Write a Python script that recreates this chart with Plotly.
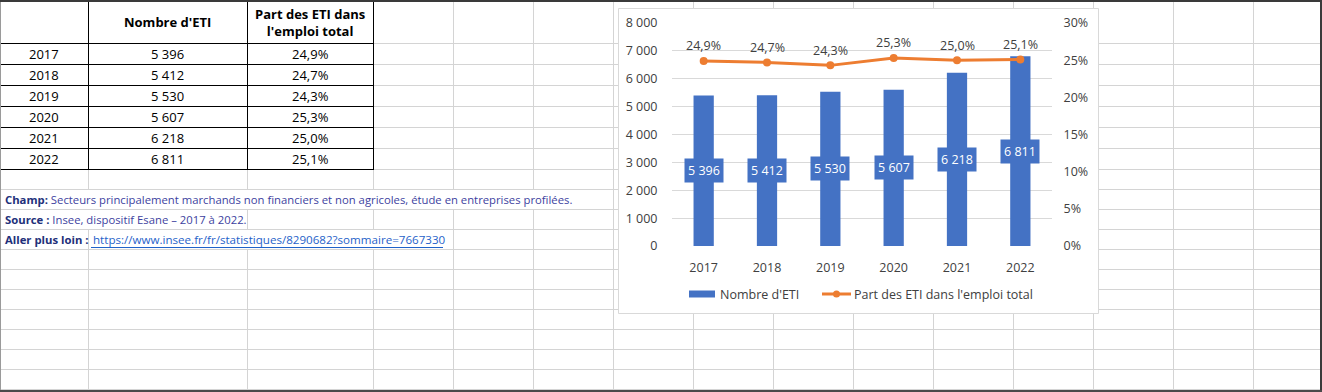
import plotly.graph_objects as go

W, H = 1322, 392

# ---------------- data ----------------
annees = ["2017", "2018", "2019", "2020", "2021", "2022"]
nombre_eti = [5396, 5412, 5530, 5607, 6218, 6811]
part_emploi = [24.9, 24.7, 24.3, 25.3, 25.0, 25.1]  # %
y_left_ticks = [0, 1000, 2000, 3000, 4000, 5000, 6000, 7000, 8000]
y_right_ticks = [0, 5, 10, 15, 20, 25, 30]
col_headers = ["Nombre d'ETI", "Part des ETI dans<br>l'emploi total"]
legend_labels = ["Nombre d'ETI", "Part des ETI dans l'emploi total"]
note_champ_label = "Champ:"
note_champ = "Secteurs principalement marchands non financiers et non agricoles, étude en entreprises profilées."
note_source_label = "Source :"
note_source = "Insee, dispositif Esane – 2017 à 2022."
note_link_label = "Aller plus loin :"
note_link = "https://www.insee.fr/fr/statistiques/8290682?sommaire=7667330"

BLUE = "#4472C4"
ORANGE = "#ED7D31"
TXT = "#404040"
GRID_XL = "#d4d4d4"
FONT_CHART = "Open Sans"
FONT_SHEET = "Open Sans"


def fmt_int(v):
    return f"{v:,}".replace(",", "\u00a0")


def fmt_pct(v):
    return f"{v:.1f}".replace(".", ",") + "%"


def X(px):
    return px / W


def Y(py):
    return 1 - py / H


shapes = []
annotations = []


def line(x0, y0, x1, y1, color, width=1, layer="below"):
    shapes.append(dict(type="line", xref="paper", yref="paper",
                       x0=X(x0), y0=Y(y0), x1=X(x1), y1=Y(y1),
                       line=dict(color=color, width=width), layer=layer))


def text(x, y, t, size, color, anchor="center", family=FONT_SHEET):
    annotations.append(dict(xref="paper", yref="paper", x=X(x), y=Y(y), text=t,
                            showarrow=False, xanchor=anchor, yanchor="middle",
                            font=dict(family=family, size=size, color=color)))


# ---------------- spreadsheet grid ----------------
col_edges = [0, 88, 247, 373, 453, 533, 613, 693, 773, 853, 933, 1013, 1093, 1173, 1253]
row_edges = [0, 43, 64, 85, 106, 127, 148, 169, 189, 209, 229, 249, 269, 289, 309,
             329, 349, 369, 389]
hidden = {189: {88, 247, 373, 453, 533}, 209: {88}, 229: {247, 373}}

for r in row_edges[1:]:
    line(0, r + 0.5, W, r + 0.5, GRID_XL)
for c in col_edges[1:]:
    for i in range(len(row_edges) - 1):
        top, bot = row_edges[i], row_edges[i + 1]
        if c in hidden.get(top, set()):
            continue
        line(c + 0.5, top, c + 0.5, bot + 1, GRID_XL)

table_bottom = row_edges[7]
for r in row_edges[1:8]:
    line(0, r + 0.5, 373.5, r + 0.5, "#000000")
for c in [88, 247, 373]:
    line(c + 0.5, 0, c + 0.5, table_bottom + 1, "#000000")

# window edges
line(0.5, 0, 0.5, H, "#9a9a9a")
line(0, 1, W, 1, "#3a3a3a", 2)
line(W - 1, 0, W - 1, H, "#3a3a3a", 2)
line(0, 391, W, 391, "#4a4a4a", 2)

# chart box
shapes.append(dict(type="rect", xref="paper", yref="paper",
                   x0=X(618.5), y0=Y(313.5), x1=X(1098.5), y1=Y(8.5),
                   fillcolor="white", line=dict(color="#d9d9d9", width=1), layer="below"))

# ---------------- table text ----------------
col_centers = [44, 167.5, 310]
text(col_centers[1], 22, "<b>" + col_headers[0] + "</b>", 13, "#000000")
text(col_centers[2], 22, "<b>" + col_headers[1] + "</b>", 13, "#000000")
for i, a in enumerate(annees):
    yc = (row_edges[i + 1] + row_edges[i + 2]) / 2 + 0.5
    text(col_centers[0], yc, a, 13, "#000000")
    text(col_centers[1], yc, fmt_int(nombre_eti[i]), 13, "#000000")
    text(col_centers[2], yc, fmt_pct(part_emploi[i]), 13, "#000000")

NAVY = "#22307a"
NOTE = "#3d3fa0"
LINK = "#1f62c9"
text(3, 199.5, f"<b><span style='color:{NAVY}'>{note_champ_label}</span></b> {note_champ}", 11.3, NOTE, "left")
text(3, 219.5, f"<b><span style='color:{NAVY}'>{note_source_label}</span></b> {note_source}", 11.3, NOTE, "left")
text(3, 239.5, f"<b>{note_link_label}</b>", 11.3, NAVY, "left")
text(91, 239.5, note_link, 11.6, LINK, "left")
line(91, 247.5, 443, 247.5, LINK, 1, "above")

# ---------------- chart ----------------
xi = list(range(len(annees)))
fig = go.Figure()
fig.add_trace(go.Bar(x=xi, y=nombre_eti, marker=dict(color=BLUE, line=dict(width=0)),
                     width=0.32, name=legend_labels[0], hoverinfo="skip"))
fig.add_trace(go.Scatter(x=xi, y=part_emploi, yaxis="y2", mode="lines+markers",
                         line=dict(color=ORANGE, width=3), marker=dict(color=ORANGE, size=8),
                         name=legend_labels[1], hoverinfo="skip"))

for i, v in zip(xi, nombre_eti):
    annotations.append(dict(x=i, y=v / 2, xref="x", yref="y", text=fmt_int(v),
                            showarrow=False, bgcolor=BLUE, borderpad=3,
                            font=dict(family=FONT_CHART, size=12.5, color="white")))
for i, p in zip(xi, part_emploi):
    annotations.append(dict(x=i, y=p, xref="x", yref="y2", text=fmt_pct(p),
                            showarrow=False, yshift=15,
                            font=dict(family=FONT_CHART, size=12.5, color=TXT)))

# custom legend
shapes.append(dict(type="rect", xref="paper", yref="paper", x0=X(689), x1=X(715),
                   y0=Y(297.5), y1=Y(290.5), fillcolor=BLUE, line=dict(width=0), layer="above"))
text(718, 294, legend_labels[0], 12.5, TXT, "left", FONT_CHART)
line(822, 294, 851, 294, ORANGE, 3, "above")
shapes.append(dict(type="circle", xref="paper", yref="paper", x0=X(833), x1=X(840),
                   y0=Y(297.5), y1=Y(290.5), fillcolor=ORANGE, line=dict(width=0), layer="above"))
text(852, 294, legend_labels[1], 12.5, TXT, "left", FONT_CHART)

tickfont = dict(family=FONT_CHART, size=12.5, color=TXT)
fig.update_layout(
    width=W, height=H, autosize=False,
    margin=dict(l=0, r=0, t=0, b=0, pad=0, autoexpand=False),
    paper_bgcolor="white", plot_bgcolor="rgba(0,0,0,0)",
    separators=", ",
    showlegend=False,
    title=dict(text=""),
    xaxis=dict(domain=[X(672), X(1052)], range=[-0.5, len(annees) - 0.5],
               tickmode="array", tickvals=xi, ticktext=annees, automargin=False,
               showgrid=False, zeroline=False,
               showline=False, ticks="outside", ticklen=10, tickcolor="rgba(0,0,0,0)",
               tickfont=tickfont, fixedrange=True),
    yaxis=dict(domain=[Y(246), Y(23)], range=[0, 8000], tickmode="array", automargin=False,
               tickvals=y_left_ticks, ticktext=[fmt_int(v) for v in y_left_ticks],
               showgrid=True, gridcolor="#d9d9d9", gridwidth=1,
               zeroline=False, showline=False, ticks="outside", ticklen=11,
               tickcolor="rgba(0,0,0,0)", tickfont=tickfont, fixedrange=True),
    yaxis2=dict(overlaying="y", side="right", anchor="x", range=[0, 30], automargin=False,
                tickmode="array", tickvals=y_right_ticks,
                ticktext=[f"{v}%" for v in y_right_ticks], showgrid=False, zeroline=False,
                showline=False, ticks="outside", ticklen=8, tickcolor="rgba(0,0,0,0)",
                tickfont=tickfont, fixedrange=True),
    shapes=shapes,
    annotations=annotations,
)

post = ("var s=document.createElement('style');"
        "s.textContent='html,body{margin:0!important;padding:0!important;overflow:hidden!important;"
        "width:1322px;height:392px;}';"
        "document.head.appendChild(s);"
        "var d=document.getElementById('{plot_id}');"
        "d.style.position='fixed';d.style.left='0px';d.style.top='0px';")
fig.write_html("out.html", post_script=post,
               config={"displayModeBar": False, "responsive": False, "staticPlot": True})
